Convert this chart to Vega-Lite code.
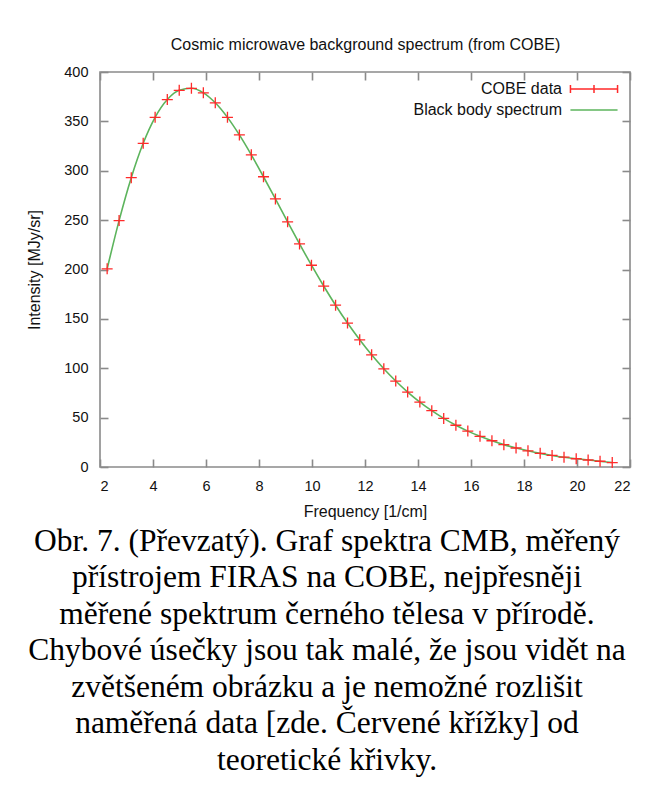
{
  "$schema": "https://vega.github.io/schema/vega-lite/v6.json",
  "width": 530,
  "height": 395,
  "autosize": {"type": "none"},
  "padding": {"left": 100, "top": 72, "right": 24, "bottom": 336},
  "background": "white",
  "config": {
    "font": "Liberation Sans",
    "view": {"stroke": "#8a8a8a", "strokeWidth": 1.6},
    "axis": {
      "grid": false,
      "domain": false,
      "tickColor": "#8a8a8a",
      "tickWidth": 1.6,
      "tickSize": -8,
      "labelFont": "Liberation Sans",
      "labelFontSize": 14.5,
      "labelColor": "#111",
      "titleFont": "Liberation Sans",
      "titleFontSize": 16,
      "titleFontWeight": "normal",
      "titleColor": "#111"
    }
  },
  "title": {
    "text": [
      "Obr. 7. (Převzatý). Graf spektra CMB, měřený",
      "přístrojem FIRAS na COBE, nejpřesněji",
      "měřené spektrum černého tělesa v přírodě.",
      "Chybové úsečky jsou tak malé, že jsou vidět na",
      "zvětšeném obrázku a je nemožné rozlišit",
      "naměřená data [zde. Červené křížky] od",
      "teoretické křivky."
    ],
    "orient": "bottom",
    "anchor": "middle",
    "font": "Liberation Serif",
    "fontSize": 31.5,
    "fontWeight": "normal",
    "lineHeight": 36.5,
    "color": "#000",
    "offset": 6,
    "dx": -38
  },
  "datasets": {
    "cobe": [
      {"freq": 2.27, "intensity": 200.723},
      {"freq": 2.72, "intensity": 249.508},
      {"freq": 3.18, "intensity": 293.024},
      {"freq": 3.63, "intensity": 327.77},
      {"freq": 4.08, "intensity": 354.081},
      {"freq": 4.54, "intensity": 372.079},
      {"freq": 4.99, "intensity": 381.493},
      {"freq": 5.45, "intensity": 383.478},
      {"freq": 5.9, "intensity": 378.901},
      {"freq": 6.35, "intensity": 368.833},
      {"freq": 6.81, "intensity": 354.063},
      {"freq": 7.26, "intensity": 336.278},
      {"freq": 7.71, "intensity": 316.076},
      {"freq": 8.17, "intensity": 293.924},
      {"freq": 8.62, "intensity": 271.432},
      {"freq": 9.08, "intensity": 248.239},
      {"freq": 9.53, "intensity": 225.94},
      {"freq": 9.98, "intensity": 204.327},
      {"freq": 10.44, "intensity": 183.262},
      {"freq": 10.89, "intensity": 163.83},
      {"freq": 11.34, "intensity": 145.75},
      {"freq": 11.8, "intensity": 128.835},
      {"freq": 12.25, "intensity": 113.568},
      {"freq": 12.71, "intensity": 99.451},
      {"freq": 13.16, "intensity": 87.036},
      {"freq": 13.61, "intensity": 75.876},
      {"freq": 14.07, "intensity": 65.766},
      {"freq": 14.52, "intensity": 57.008},
      {"freq": 14.97, "intensity": 49.223},
      {"freq": 15.43, "intensity": 42.267},
      {"freq": 15.88, "intensity": 36.352},
      {"freq": 16.34, "intensity": 31.062},
      {"freq": 16.79, "intensity": 26.58},
      {"freq": 17.24, "intensity": 22.644},
      {"freq": 17.7, "intensity": 19.255},
      {"freq": 18.15, "intensity": 16.391},
      {"freq": 18.61, "intensity": 13.811},
      {"freq": 19.06, "intensity": 11.716},
      {"freq": 19.51, "intensity": 9.921},
      {"freq": 19.97, "intensity": 8.364},
      {"freq": 20.42, "intensity": 7.087},
      {"freq": 20.87, "intensity": 5.801},
      {"freq": 21.33, "intensity": 4.523}
    ]
  },
  "data": {"name": "cobe"},
  "layer": [
    {
      "mark": {"type": "line", "interpolate": "monotone", "strokeWidth": 1.6},
      "encoding": {
        "x": {
          "field": "freq", "type": "quantitative",
          "scale": {"domain": [2, 22], "nice": false, "zero": false},
          "axis": {"orient": "bottom", "values": [2, 4, 6, 8, 10, 12, 14, 16, 18, 20, 22], "labelPadding": 20, "title": "Frequency [1/cm]", "titlePadding": 11}
        },
        "y": {
          "field": "intensity", "type": "quantitative",
          "scale": {"domain": [0, 400], "nice": false},
          "axis": {"orient": "left", "values": [0, 50, 100, 150, 200, 250, 300, 350, 400], "labelPadding": 20, "title": "Intensity [MJy/sr]", "titlePadding": 21}
        },
        "color": {
          "datum": "Black body spectrum",
          "scale": {"domain": ["COBE data", "Black body spectrum"], "range": ["#ff2a2a", "#5cb45c"]},
          "legend": {
            "orient": "top-right",
            "title": null,
            "offset": 9,
            "padding": 0,
            "labelFont": "Liberation Sans",
            "labelFontSize": 16,
            "labelColor": "#111",
            "labelAlign": "right",
            "labelOffset": -40,
            "symbolSize": 132,
            "symbolStrokeWidth": 1.5,
            "rowPadding": 5,
            "encode": {
              "symbols": {
                "update": {
                  "shape": {"signal": "datum.value === 'COBE data' ? 'M-4.1,0H4.1M-4.1,-0.7V0.7M4.1,-0.7V0.7M0,-0.7V0.7' : 'M-4.1,0H4.1'"},
                  "stroke": {"scale": "color", "field": "value"},
                  "fill": {"value": "transparent"}
                }
              }
            }
          }
        }
      }
    },
    {
      "mark": {"type": "point", "shape": "M-1,0H1M0,-1V1", "filled": false, "size": 121, "strokeWidth": 1.3, "opacity": 1},
      "encoding": {
        "x": {
          "field": "freq", "type": "quantitative",
          "axis": {"orient": "top", "values": [2, 4, 6, 8, 10, 12, 14, 16, 18, 20, 22], "labels": false, "title": "Cosmic microwave background spectrum (from COBE)", "titlePadding": 19}
        },
        "y": {
          "field": "intensity", "type": "quantitative",
          "axis": {"orient": "right", "values": [0, 50, 100, 150, 200, 250, 300, 350, 400], "labels": false, "title": null}
        },
        "color": {"datum": "COBE data"}
      }
    }
  ]
}
